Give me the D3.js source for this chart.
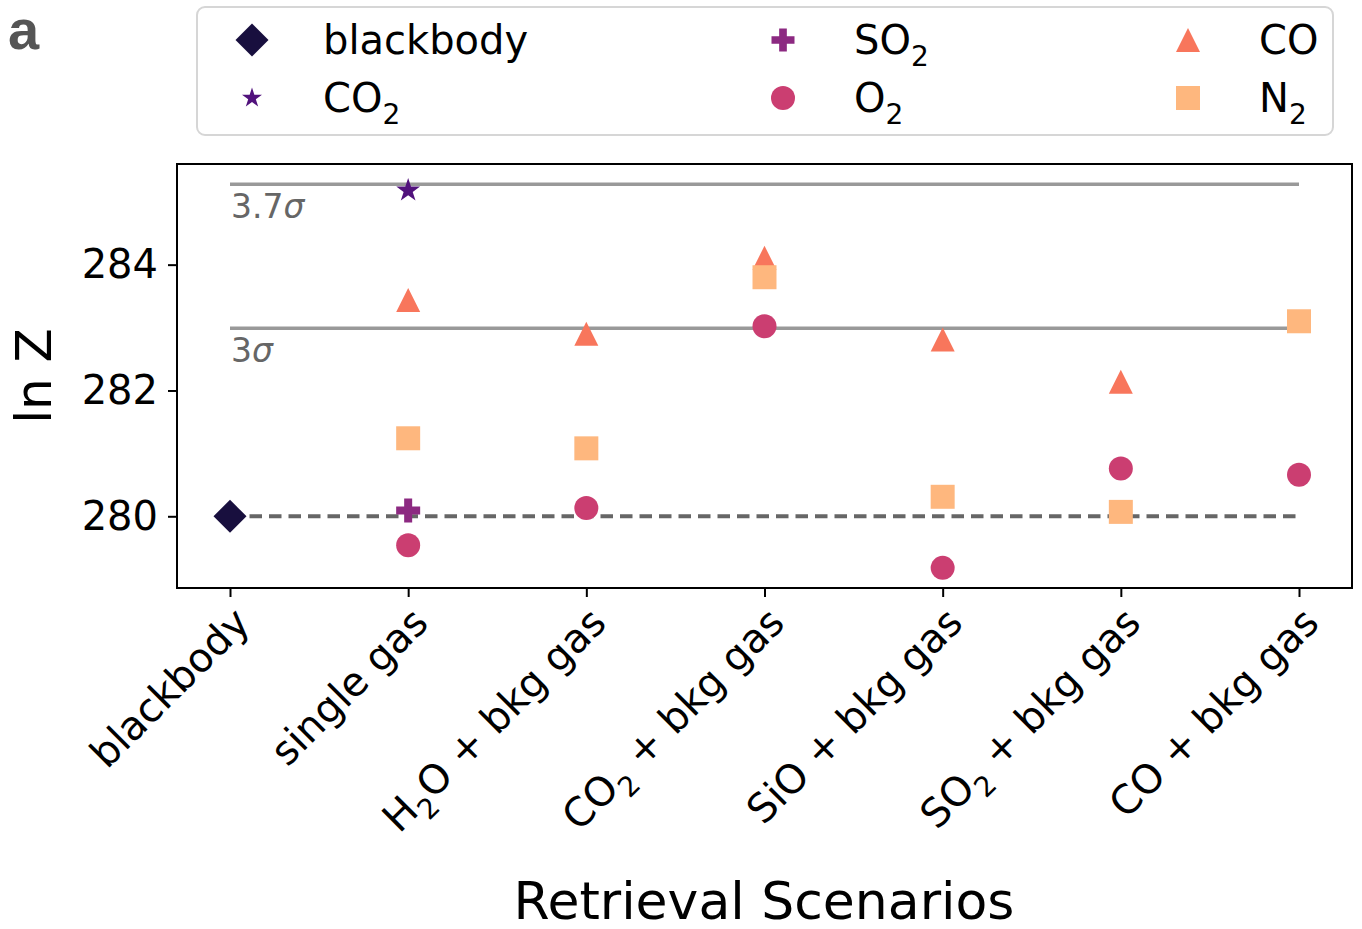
<!DOCTYPE html>
<html>
<head>
<meta charset="utf-8">
<script src="https://cdn.jsdelivr.net/npm/d3@7"></script>
<style>
  html, body { margin: 0; padding: 0; background: #fff; }
  svg { display: block; font-family: "DejaVu Sans", sans-serif; }
</style>
</head>
<body>
<svg id="chart" width="1362" height="929"></svg>
<script>
// Retrieval scenarios (underscore marks a subscript digit)
const categories = ["blackbody", "single gas", "H_2O + bkg gas", "CO_2 + bkg gas",
                    "SiO + bkg gas", "SO_2 + bkg gas", "CO + bkg gas"];

// ln Z per scenario for each species (null = not retrieved)
const blackbodyVals = [280.00, null, null, null, null, null, null];
const co2Vals       = [null, 285.18, null, null, null, null, null];
const so2Vals       = [null, 280.09, null, null, null, null, null];
const o2Vals        = [null, 279.54, 280.13, 283.02, 279.18, 280.76, 280.66];
const coVals        = [null, 283.44, 282.90, 284.11, 282.81, 282.14, null];
const n2Vals        = [null, 281.24, 281.08, 283.80, 280.31, 280.07, 283.10];

// Reference levels
const referenceLnZ = 280.0;
const sigmaLevels = [285.28, 282.99];
const sigmaLabels = ["3.7", "3"];

const yTicks = [280, 282, 284];
const yDomain = [278.86, 285.60];

const series = [
  { name: "blackbody", label: "blackbody", values: blackbodyVals, color: "#180f3e", shape: "diamond" },
  { name: "CO2",       label: "CO_2",      values: co2Vals,       color: "#51127c", shape: "star" },
  { name: "SO2",       label: "SO_2",      values: so2Vals,       color: "#8c2981", shape: "plus" },
  { name: "O2",        label: "O_2",       values: o2Vals,        color: "#cb3e71", shape: "circle" },
  { name: "CO",        label: "CO",        values: coVals,        color: "#f8765c", shape: "triangle" },
  { name: "N2",        label: "N_2",       values: n2Vals,        color: "#feb77e", shape: "square" }
];

const svg = d3.select("#chart");
const plot = { left: 177, right: 1352, top: 164, bottom: 588 };

const x = d3.scalePoint().domain(categories).range([230, 1299]);
const y = d3.scaleLinear().domain(yDomain).range([plot.bottom, plot.top]);

// Marker path generators, centred on the point
function markerPath(shape, s) {
  const h = s / 2;
  switch (shape) {
    case "diamond": return `M0,${-h}L${h},0L0,${h}L${-h},0Z`;
    case "square":  return `M${-h},${-h}H${h}V${h}H${-h}Z`;
    case "triangle":return `M0,${-h}L${h},${h}L${-h},${h}Z`;
    case "circle":  return d3.symbol(d3.symbolCircle, Math.PI * h * h)();
    case "plus": {
      const t = s / 6;
      return `M${-t},${-h}H${t}V${-t}H${h}V${t}H${t}V${h}H${-t}V${t}H${-h}V${-t}H${-t}Z`;
    }
    case "star": {
      const pts = [];
      for (let i = 0; i < 10; i++) {
        const r = i % 2 === 0 ? h : h * 0.382;
        const a = -Math.PI / 2 + i * Math.PI / 5;
        pts.push([r * Math.cos(a), r * Math.sin(a)]);
      }
      return "M" + pts.map(p => p.join(",")).join("L") + "Z";
    }
  }
}
const markerSize = { diamond: 33, square: 24, triangle: 24, circle: 24, plus: 24, star: 25 };
const legendSize = { diamond: 33, square: 24, triangle: 24, circle: 24, plus: 23, star: 21 };

// Writes text with "_n" turned into a subscript
function richText(sel, str, fontSize) {
  const parts = str.split(/_(\d)/);
  const shift = Math.round(fontSize * 0.3);
  let lowered = false;
  parts.forEach((p, i) => {
    if (!p) return;
    if (i % 2 === 1) {
      sel.append("tspan").attr("font-size", fontSize * 0.7).attr("dy", shift).text(p);
      lowered = true;
    } else {
      const ts = sel.append("tspan").text(p);
      if (lowered) { ts.attr("dy", -shift); lowered = false; }
    }
  });
}

// Plot frame
svg.append("rect")
  .attr("x", plot.left).attr("y", plot.top)
  .attr("width", plot.right - plot.left).attr("height", plot.bottom - plot.top)
  .attr("fill", "none").attr("stroke", "#000").attr("stroke-width", 2);

// Y axis
const yAxis = svg.append("g")
  .attr("transform", `translate(${plot.left},0)`)
  .call(d3.axisLeft(y).tickValues(yTicks).tickSize(9).tickPadding(10).tickFormat(d3.format("d")));
yAxis.select(".domain").remove();
yAxis.selectAll(".tick line").attr("stroke", "#000").attr("stroke-width", 2);
yAxis.selectAll(".tick text").attr("font-size", 40).attr("fill", "#000")
  .attr("font-family", "DejaVu Sans");

// X axis ticks
const xAxis = svg.append("g")
  .attr("transform", `translate(0,${plot.bottom})`)
  .call(d3.axisBottom(x).tickSize(9).tickFormat(""));
xAxis.select(".domain").remove();
xAxis.selectAll(".tick line").attr("stroke", "#000").attr("stroke-width", 2);

// Rotated category labels
categories.forEach(c => {
  const t = svg.append("text")
    .attr("transform", `translate(${x(c) + 22},${625}) rotate(-45)`)
    .attr("text-anchor", "end")
    .attr("font-size", 40)
    .attr("fill", "#000");
  richText(t, c, 40);
});

// Axis titles
svg.append("text")
  .attr("transform", `translate(51,${(plot.top + plot.bottom) / 2}) rotate(-90)`)
  .attr("text-anchor", "middle").attr("font-size", 50).attr("fill", "#000")
  .text("ln Z");
svg.append("text")
  .attr("x", 764).attr("y", 919)
  .attr("text-anchor", "middle").attr("font-size", 52).attr("fill", "#000")
  .text("Retrieval Scenarios");

// Significance lines
const x0 = x(categories[0]), x1 = x(categories[categories.length - 1]);
sigmaLevels.forEach((v, i) => {
  svg.append("line")
    .attr("x1", x0).attr("x2", x1).attr("y1", y(v)).attr("y2", y(v))
    .attr("stroke", "#999").attr("stroke-width", 3.5);
  const t = svg.append("text")
    .attr("x", x0 + 1).attr("y", y(v) + 34)
    .attr("font-size", 33).attr("fill", "#666");
  t.append("tspan").text(sigmaLabels[i]);
  t.append("tspan").attr("font-style", "italic").text("\u03c3");
});
svg.append("line")
  .attr("x1", x0).attr("x2", x1).attr("y1", y(referenceLnZ)).attr("y2", y(referenceLnZ))
  .attr("stroke", "#666").attr("stroke-width", 4).attr("stroke-dasharray", "12.5,7");

// Points
series.forEach(s => {
  svg.append("g").selectAll("path")
    .data(categories.map((c, i) => ({ c, v: s.values[i] })).filter(d => d.v !== null))
    .join("path")
    .attr("transform", d => `translate(${x(d.c)},${y(d.v)})`)
    .attr("d", markerPath(s.shape, markerSize[s.shape]))
    .attr("fill", s.color);
});

// Panel letter
svg.append("text")
  .attr("x", 8).attr("y", 49)
  .attr("font-family", "Liberation Sans, Arial, sans-serif")
  .attr("font-weight", "bold").attr("font-size", 56).attr("fill", "#555")
  .text("a");

// Legend
svg.append("rect")
  .attr("x", 197).attr("y", 7).attr("width", 1136).attr("height", 128)
  .attr("rx", 8).attr("fill", "#fff").attr("stroke", "#d6d6d6").attr("stroke-width", 2);

const legendCols = [252, 783, 1188];
const legendRows = [40, 98];
series.forEach((s, i) => {
  const col = Math.floor(i / 2), row = i % 2;
  const mx = legendCols[col], my = legendRows[row];
  svg.append("path")
    .attr("transform", `translate(${mx},${my})`)
    .attr("d", markerPath(s.shape, legendSize[s.shape]))
    .attr("fill", s.color);
  const t = svg.append("text")
    .attr("x", mx + 71).attr("y", my + 14)
    .attr("font-size", 40).attr("fill", "#000");
  richText(t, s.label, 40);
});
</script>
</body>
</html>
